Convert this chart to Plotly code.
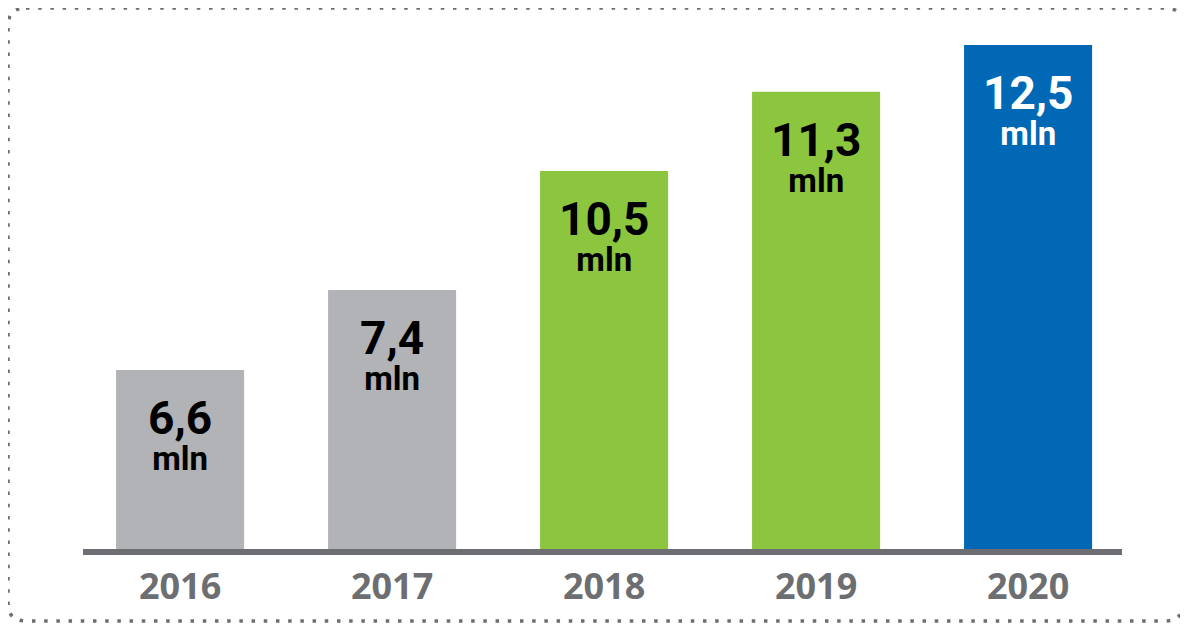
import plotly.graph_objects as go

# ---- data ----
years = ["2016", "2017", "2018", "2019", "2020"]
values_mln = [6.6, 7.4, 10.5, 11.3, 12.5]
# The original graphic is not drawn to scale: drawn bar height, % of the tallest bar
drawn_height = [35.5, 51.4, 75.0, 90.7, 100.0]
bar_colors = ["#b1b3b6", "#b1b3b6", "#8cc63f", "#8cc63f", "#0068b4"]
label_colors = ["#000000", "#000000", "#000000", "#000000", "#ffffff"]
unit = "mln"

# page body has an 8px margin, so the figure is drawn 8px in from the window corner
OFF = 8
W, H = 1188 - OFF, 624 - OFF
GRAY = "#6d6e71"
NARROW = "Roboto, sans-serif"

x_pos = list(range(len(years)))

fig = go.Figure()
fig.add_trace(go.Bar(
    x=x_pos, y=drawn_height,
    marker=dict(color=bar_colors, line=dict(width=0)),
    width=0.604,
    hoverinfo="skip",
))

# value labels inside bars (one text per bar: value + unit on two lines)
for i, (v, h) in enumerate(zip(values_mln, drawn_height)):
    txt = f"{v:.1f}".replace(".", ",")
    label = (f"<span style='font-size:46px'><b>{txt}</b></span><br>"
             f"<span style='font-size:33px'><b>{unit}</b></span>")
    fig.add_annotation(x=i, y=h, xref="x", yref="y", text=label,
                       showarrow=False, yanchor="top", yshift=-19, align="center",
                       font=dict(family=NARROW, size=28, color=label_colors[i]))

def px(x):
    return (x - OFF) / W

def py(y):
    return 1 - (y - OFF) / H

# dotted rounded border
x0, x1, y0, y1, r = 8, 1183, 8, 621, 18
rx, ry = r / W, r / H
X0, X1, Y0, Y1 = px(x0), px(x1), py(y0), py(y1)
path = (f"M {X0+rx},{Y0} L {X1-rx},{Y0} Q {X1},{Y0} {X1},{Y0-ry} "
        f"L {X1},{Y1+ry} Q {X1},{Y1} {X1-rx},{Y1} "
        f"L {X0+rx},{Y1} Q {X0},{Y1} {X0},{Y1+ry} "
        f"L {X0},{Y0-ry} Q {X0},{Y0} {X0+rx},{Y0} Z")
fig.add_shape(type="path", path=path, xref="paper", yref="paper",
              line=dict(color="#6d6e71", width=3.5, dash="3.5px,8.7px"))

fig.update_layout(
    width=W, height=H,
    margin=dict(l=0, r=0, t=0, b=0),
    paper_bgcolor="white", plot_bgcolor="white",
    showlegend=False,
    xaxis=dict(
        domain=[px(83), px(1122)],
        range=[-0.458, 4.443],
        tickmode="array", tickvals=x_pos, ticktext=[f"<b>{y}</b>" for y in years],
        tickfont=dict(family="Open Sans, sans-serif", size=36, color=GRAY),
        showgrid=False, zeroline=False,
        showline=True, linecolor=GRAY, linewidth=6,
        ticks="", ticklabelstandoff=1,
        fixedrange=True,
    ),
    yaxis=dict(
        domain=[py(549), py(45)],
        range=[0, 100],
        visible=False, showgrid=False, zeroline=False, fixedrange=True,
    ),
)

fig.write_html("out.html")
